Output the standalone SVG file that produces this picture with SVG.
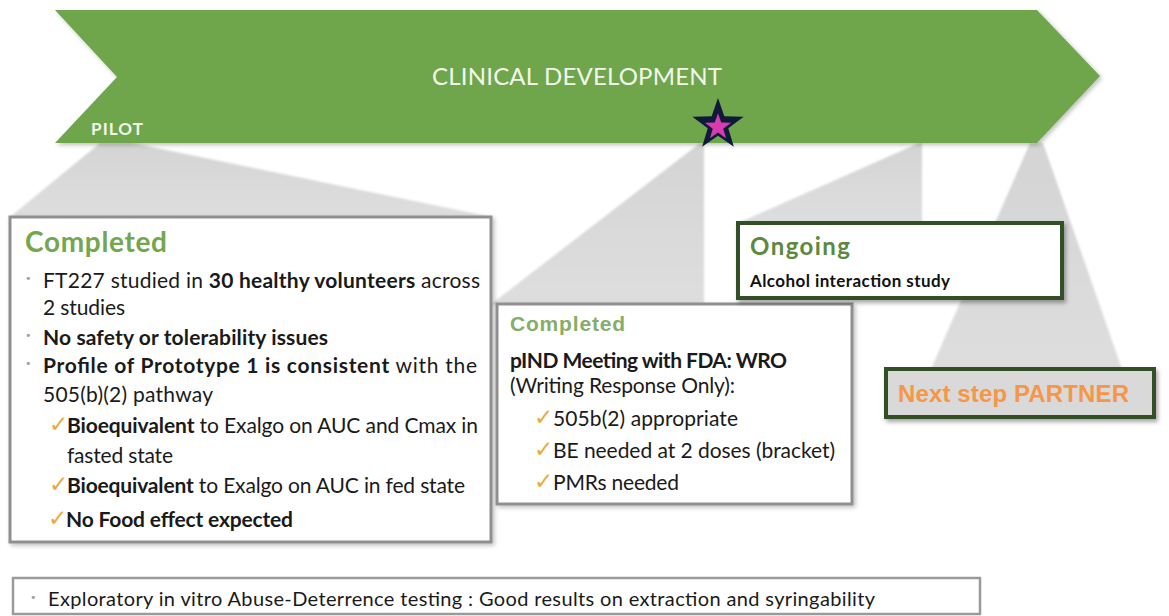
<svg xmlns="http://www.w3.org/2000/svg" width="1169" height="616" viewBox="0 0 1169 616">
<defs>
<linearGradient id="wg" x1="0" y1="0" x2="0" y2="1">
<stop offset="0" stop-color="#d4d4d4"/>
<stop offset="1" stop-color="#dedede"/>
</linearGradient>
<filter id="blur" x="-5%" y="-5%" width="110%" height="110%"><feGaussianBlur stdDeviation="1.2"/></filter>
<filter id="sh" x="-10%" y="-10%" width="125%" height="140%"><feDropShadow dx="2" dy="3" stdDeviation="2" flood-color="#000" flood-opacity="0.35"/></filter>
<filter id="shl" x="-10%" y="-10%" width="125%" height="140%"><feDropShadow dx="2" dy="2" stdDeviation="2" flood-color="#000" flood-opacity="0.25"/></filter>
<path id="star" d="M0,-25 L5.878,-8.09 L23.78,-7.73 L9.511,3.09 L14.69,20.23 L0,10 L-14.69,20.23 L-9.511,3.09 L-23.78,-7.73 L-5.878,-8.09 Z"/>
</defs>
<style>
.body{font-family:Lato,"Liberation Sans",sans-serif;font-size:21px;fill:#1a1a1a}
.b{font-weight:bold}
.bul{font-family:"DejaVu Sans",sans-serif;font-size:11px;fill:#a0a0a0}
.chk{font-family:"DejaVu Sans",sans-serif;font-size:23px;fill:#eda93c}
.gbox{fill:#ffffff;stroke:#8f8f8f;stroke-width:3}
.dbox{stroke:#324f26;stroke-width:4}
.wedge{fill:url(#wg)}
</style>
<rect width="1169" height="616" fill="#ffffff"/>

<g id="wedges" filter="url(#blur)">
<polygon class="wedge" points="100,143 132,143 492,217 10,217"/>
<polygon class="wedge" points="700,143 704,143 704,305 490,305"/>
<polygon class="wedge" points="919,143 922,143 922,223 738,223"/>
<polygon class="wedge" points="1030,143 1043,143 1122,369 931,369"/>
</g>

<g id="timeline">
<polygon points="55,10 1037,10 1100,76 1037,143 55,143 117,77" fill="#70a64b" filter="url(#shl)"/>
<text x="432" y="85" textLength="290" style="font-family:Lato,'Liberation Sans',sans-serif;font-size:24px;fill:#f2f7ec">CLINICAL DEVELOPMENT</text>
<text x="91" y="135" textLength="52" style="font-family:Lato,'Liberation Sans',sans-serif;font-size:17px;font-weight:bold;fill:#f2f7ec">PILOT</text>
</g>

<g id="milestone-star">
<use href="#star" transform="translate(718,125) scale(1.08)" fill="#0f1a3a"/>
<use href="#star" transform="translate(718,127) scale(0.55)" fill="#d63cb0"/>
</g>

<g id="box-completed-pilot">
<rect class="gbox" x="10" y="217" width="481" height="325" filter="url(#shl)"/>
<text x="25" y="252" textLength="142" style="font-family:Lato,'Liberation Sans',sans-serif;font-size:28px;font-weight:bold;fill:#72a74e">Completed</text>
<text class="bul" x="25" y="282">•</text>
<text class="body" x="43" y="288" textLength="437">FT227 studied in <tspan class="b">30 healthy volunteers</tspan> across</text>
<text class="body" x="43" y="315" textLength="82">2 studies</text>
<text class="bul" x="25" y="339">•</text>
<text class="body b" x="43" y="345" textLength="285">No safety or tolerability issues</text>
<text class="bul" x="25" y="367">•</text>
<text class="body" x="43" y="373" textLength="434"><tspan class="b">Profile of Prototype 1 is consistent</tspan> with the</text>
<text class="body" x="43" y="402" textLength="170">505(b)(2) pathway</text>
<text class="chk" x="49" y="432">✓</text>
<text class="body" x="67" y="433" textLength="411"><tspan class="b">Bioequivalent</tspan> to Exalgo on AUC and Cmax in</text>
<text class="body" x="67" y="463" textLength="106">fasted state</text>
<text class="chk" x="49" y="492">✓</text>
<text class="body" x="67" y="493" textLength="398"><tspan class="b">Bioequivalent</tspan> to Exalgo on AUC in fed state</text>
<text class="chk" x="48" y="526">✓</text>
<text class="body b" x="66" y="527" textLength="227">No Food effect expected</text>
</g>

<g id="box-completed-pind">
<rect class="gbox" x="497" y="304" width="355" height="200" filter="url(#shl)"/>
<text x="510" y="331" textLength="115" style="font-family:'Liberation Sans',Arial,sans-serif;font-size:21px;font-weight:bold;fill:#86ad69">Completed</text>
<text class="body b" x="510" y="368" textLength="277">pIND Meeting with FDA: WRO</text>
<text class="body" x="510" y="393" textLength="225">(Writing Response Only):</text>
<text class="chk" x="534" y="425">✓</text>
<text class="body" x="553" y="426" textLength="185">505b(2) appropriate</text>
<text class="chk" x="534" y="457">✓</text>
<text class="body" x="553" y="458" textLength="282">BE needed at 2 doses (bracket)</text>
<text class="chk" x="534" y="489">✓</text>
<text class="body" x="553" y="490" textLength="126">PMRs needed</text>
</g>

<g id="box-ongoing">
<rect class="dbox" x="738" y="223" width="324" height="75" fill="#ffffff" filter="url(#sh)"/>
<text x="750" y="255" textLength="100" style="font-family:Lato,'Liberation Sans',sans-serif;font-size:24px;font-weight:bold;fill:#5b8a3e">Ongoing</text>
<text x="750" y="287" textLength="200" style="font-family:Lato,'Liberation Sans',sans-serif;font-size:17px;font-weight:bold;fill:#111111">Alcohol interaction study</text>
</g>

<g id="box-next-step">
<rect class="dbox" x="886" y="369" width="268" height="48" fill="#d9d9d9" filter="url(#sh)"/>
<text x="898" y="402" textLength="231" style="font-family:'Liberation Sans',Arial,sans-serif;font-size:24px;font-weight:bold;fill:#f79646">Next step PARTNER</text>
</g>

<g id="box-exploratory">
<rect x="13" y="578" width="967" height="36" fill="#ffffff" stroke="#9a9a9a" stroke-width="2.5"/>
<text class="bul" x="30" y="601">•</text>
<text class="body" x="48" y="606" textLength="827" style="font-size:20px">Exploratory in vitro Abuse-Deterrence testing : Good results on extraction and syringability</text>
</g>
</svg>
